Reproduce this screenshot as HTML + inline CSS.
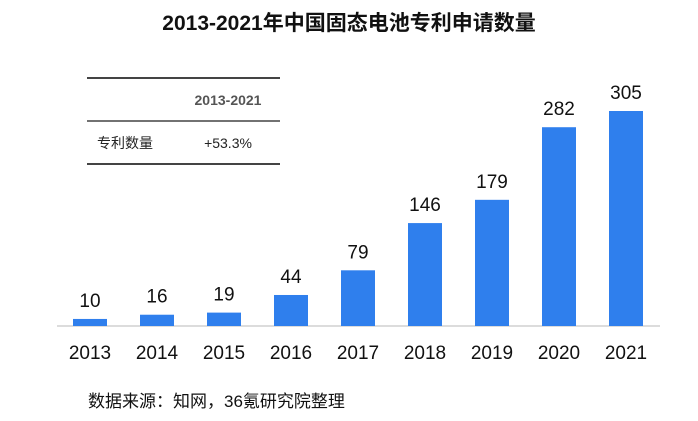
<!DOCTYPE html>
<html><head><meta charset="utf-8">
<style>
body{margin:0;background:#fff;}
svg{display:block;font-family:"Liberation Sans","Noto Sans CJK SC",sans-serif;}
</style></head>
<body>
<svg id="chart" width="698" height="421" viewBox="0 0 698 421">
<text x="349" y="30" text-anchor="middle" font-size="21" font-weight="bold" fill="#111">2013-2021年中国固态电池专利申请数量</text>
<g>
<line x1="87" y1="78" x2="280" y2="78" stroke="#444" stroke-width="2"/>
<line x1="87" y1="121" x2="280" y2="121" stroke="#444" stroke-width="1.5"/>
<line x1="87" y1="164" x2="280" y2="164" stroke="#444" stroke-width="2"/>
<text x="228" y="105" text-anchor="middle" font-size="14" font-weight="bold" fill="#555">2013-2021</text>
<text x="97" y="148" font-size="14" fill="#222">专利数量</text>
<text x="228" y="148" text-anchor="middle" font-size="14" fill="#222">+53.3%</text>
</g>
<line x1="57" y1="326" x2="660" y2="326" stroke="#d0d0d0" stroke-width="1.5"/>
<g id="bars"></g>
<text x="88" y="407" font-size="17" fill="#111">数据来源：知网，36氪研究院整理</text>
</svg>
<script>
const categories = ["2013","2014","2015","2016","2017","2018","2019","2020","2021"];
const values = [10,16,19,44,79,146,179,282,305];
const NS="http://www.w3.org/2000/svg";
const baseY=326, pxPerUnit=215/305, x0=90, step=67, bw=34;
const xScale=i=>x0+i*step;
const yScale=v=>baseY-v*pxPerUnit;
const g=document.getElementById('bars');
categories.forEach((c,i)=>{
  const cx=xScale(i), y=yScale(values[i]);
  const r=document.createElementNS(NS,'rect');
  
  
  r.setAttribute('x',cx-bw/2);r.setAttribute('y',y);
  r.setAttribute('width',bw);r.setAttribute('height',baseY-y);
  r.setAttribute('fill','#2f7fed');
  g.appendChild(r);
  const t=document.createElementNS(NS,'text');
  
  
  t.setAttribute('x',cx);t.setAttribute('y',y-12);
  t.setAttribute('text-anchor','middle');t.setAttribute('font-size','19');t.setAttribute('fill','#111');
  t.textContent=values[i];
  g.appendChild(t);
  const l=document.createElementNS(NS,'text');
  
  
  l.setAttribute('x',cx);l.setAttribute('y',359);
  l.setAttribute('text-anchor','middle');l.setAttribute('font-size','19');l.setAttribute('fill','#111');
  l.textContent=c;
  g.appendChild(l);
});
</script>
</body></html>
